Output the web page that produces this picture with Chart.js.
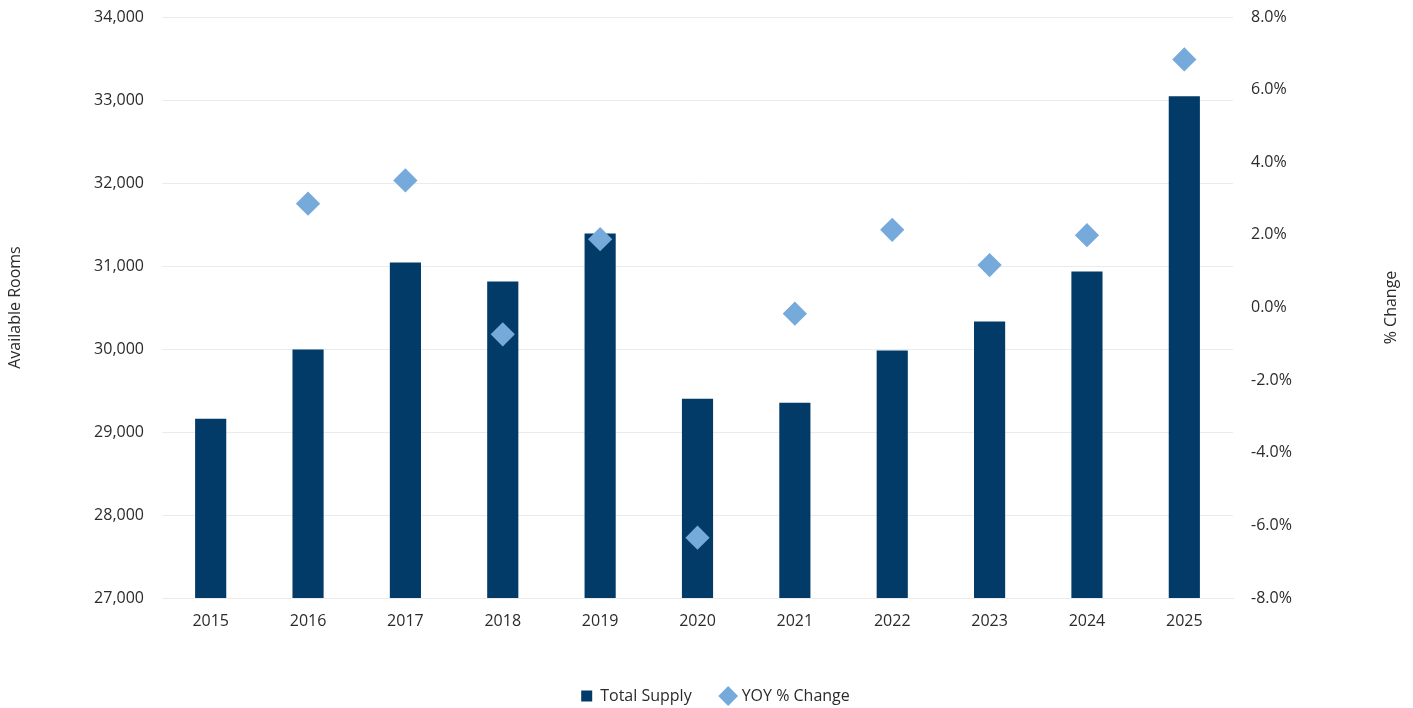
<!DOCTYPE html>
<html>
<head>
<meta charset="utf-8">
<script src="https://cdn.jsdelivr.net/npm/chart.js@4.4.1/dist/chart.umd.min.js"></script>
<style>
  html, body { margin: 0; padding: 0; background: #fff; }
  #wrap { width: 1413px; height: 708px; position: relative; }
</style>
</head>
<body>
<div id="wrap"><canvas id="chart"></canvas></div>
<script>
const years = ['2015', '2016', '2017', '2018', '2019', '2020', '2021', '2022', '2023', '2024', '2025'];
const totalSupply = [29160, 29993, 31043, 30814, 31393, 29402, 29353, 29981, 30331, 30934, 33046];
const yoyChange = [null, 2.86, 3.50, -0.74, 1.88, -6.34, -0.17, 2.14, 1.17, 1.99, 6.83];

const NAVY = '#023B68';
const LIGHT = '#75AADB';
const TEXT = '#2b2b2b';
const GRID = '#EBEBEB';
const FONT = "'Open Sans', sans-serif";

Chart.defaults.font.family = FONT;
Chart.defaults.font.size = 16;
Chart.defaults.color = TEXT;

// right axis title reads bottom-to-top like the left one, so draw it ourselves
const rightTitle = {
  id: 'rightTitle',
  afterLayout(chart) {
    // legend sits a little right of centre in the original
    chart.legend.left += 9;
    chart.legend.right += 9;
  },
  afterDraw(chart) {
    const { ctx, chartArea } = chart;
    ctx.save();
    ctx.translate(1391, (chartArea.top + chartArea.bottom) / 2);
    ctx.rotate(-Math.PI / 2);
    ctx.font = '16px ' + FONT;
    ctx.fillStyle = TEXT;
    ctx.textAlign = 'center';
    ctx.textBaseline = 'middle';
    ctx.fillText('% Change', 0, 0);
    ctx.restore();
  }
};

// keep the tick padding horizontal only
const trimPad = s => { s.paddingTop = 5; s.paddingBottom = 5; };

new Chart(document.getElementById('chart'), {
  data: {
    labels: years,
    datasets: [
      {
        type: 'line',
        label: 'YOY % Change',
        data: yoyChange,
        yAxisID: 'y1',
        showLine: false,
        pointStyle: 'rectRot',
        pointRadius: 10,
        pointHoverRadius: 10,
        pointBackgroundColor: LIGHT,
        pointBorderColor: LIGHT,
        pointBorderWidth: 3,
        borderJoinStyle: 'round',
        borderWidth: 1,
        backgroundColor: LIGHT,
        borderColor: LIGHT,
        order: 0
      },
      {
        type: 'bar',
        label: 'Total Supply',
        data: totalSupply,
        yAxisID: 'y',
        backgroundColor: NAVY,
        borderWidth: 0,
        barPercentage: 0.32,
        categoryPercentage: 1,
        pointStyle: 'rect',
        order: 1
      }
    ]
  },
  options: {
    responsive: true,
    maintainAspectRatio: false,
    animation: false,
    layout: { padding: { left: 0, right: 0, top: 17, bottom: -6 } },
    plugins: {
      tooltip: { enabled: false },
      legend: {
        position: 'bottom',
        reverse: true,
        labels: {
          usePointStyle: true,
          boxWidth: 11,
          boxHeight: 11,
          padding: 31,
          font: { size: 16 },
          color: TEXT
        }
      }
    },
    scales: {
      x: {
        grid: { display: false, drawTicks: false },
        border: { display: true, color: GRID, width: 1 },
        ticks: { padding: 14, font: { size: 16 }, color: TEXT, maxRotation: 0 },
        afterFit: s => { s.height = 59; }
      },
      y: {
        position: 'left',
        min: 27000,
        max: 34000,
        ticks: {
          stepSize: 1000,
          padding: 18,
          color: TEXT,
          callback: v => v.toLocaleString('en-US')
        },
        grid: { color: GRID, drawTicks: false },
        border: { display: false },
        title: { display: true, text: 'Available Rooms', color: TEXT, font: { size: 16 }, padding: { top: 6, bottom: 0 } },
        afterFit: s => { s.width = 162; trimPad(s); }
      },
      y1: {
        position: 'right',
        min: -8,
        max: 8,
        ticks: {
          stepSize: 2,
          padding: 18,
          color: TEXT,
          callback: v => v.toFixed(1) + '%'
        },
        grid: { display: false, drawTicks: false },
        border: { display: false },
        afterFit: s => { s.width = 180; trimPad(s); }
      }
    }
  },
  plugins: [rightTitle]
});
</script>
</body>
</html>
